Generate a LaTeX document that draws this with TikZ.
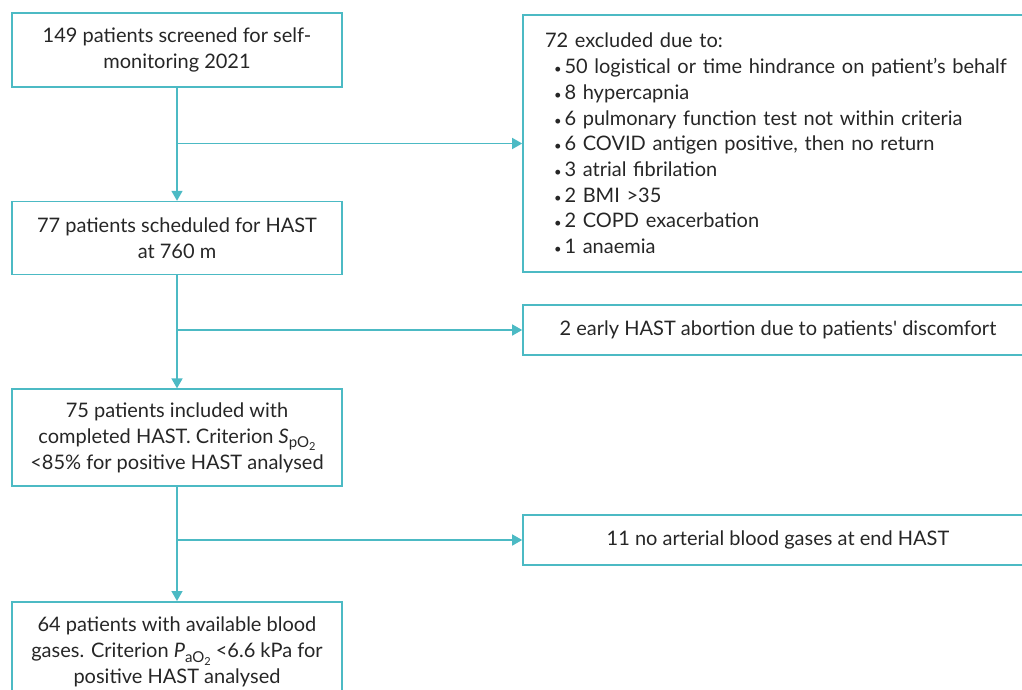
\documentclass[tikz,border=0pt]{standalone}
\usepackage{fontspec}
\setmainfont{Lato}
\usetikzlibrary{arrows.meta,positioning}
\definecolor{flowline}{RGB}{76,186,196}
\definecolor{flowtext}{RGB}{38,38,38}
\newcommand{\bul}{\hspace*{9pt}{\fontsize{13}{13}\selectfont\textbullet}\hspace{3pt}}
\newcommand{\lowsub}[1]{\raisebox{-0.45ex}{\fontsize{15}{15}\selectfont #1}}
\newcommand{\lowersub}[1]{\raisebox{-0.4ex}{\fontsize{11}{11}\selectfont #1}}

\begin{document}
\begin{tikzpicture}[x=1pt,y=-1pt,font=\fontsize{20}{25.7}\selectfont,>={Triangle[length=10pt,width=11pt]},
  box/.style={draw=flowline,line width=1.6pt,text=flowtext,align=center,minimum width=330pt,inner sep=0pt},
  sidebox/.style={box,minimum width=510pt},
  link/.style={draw=flowline,line width=1.5pt,->}]
\useasboundingbox (0,0) rectangle (1022,690);
\node[box,minimum height=74pt] (screen) at (177,50) {149 patients screened for self-\\monitoring 2021};
\node[box,minimum height=73pt,below=113pt of screen] (sched) {77 patients scheduled for HAST\\at 760 m};
\node[box,minimum height=97pt,below=113pt of sched] (incl) {75 patients included with\\completed HAST. Criterion \textit{S}\lowsub{pO\lowersub{2}}\\<85\% for positive HAST analysed};
\node[box,minimum height=100pt,below=114pt of incl] (gas) {64 patients with available blood\\gases. Criterion \textit{P}\lowsub{aO\lowersub{2}} <6.6 kPa for\\positive HAST analysed};
\node[sidebox,minimum height=257pt,align=left,text width=466pt] (excl) at (778,143.5) {72 excluded due to:\\
  \bul \mbox{50 logistical or time hindrance on patient’s behalf}\\
  \bul 8 hypercapnia\\
  \bul 6 pulmonary function test not within criteria\\
  \bul 6 COVID antigen positive, then no return\\
  \bul 3 atrial fibrilation\\
  \bul 2 BMI >35\\
  \bul 2 COPD exacerbation\\
  \bul 1 anaemia};
\node[sidebox,minimum height=50pt] (abort) at (778,330) {2 early HAST abortion due to patients\textquotesingle{} discomfort};
\node[sidebox,minimum height=50pt] (nogas) at (778,540) {11 no arterial blood gases at end HAST};
% main flow
\draw[link] (screen) -- (sched);
\draw[link] (sched) -- (incl);
\draw[link] (incl) -- (gas);
% exclusions
\draw[link] (screen.south |- excl.west) -- (excl);
\draw[link] (sched.south |- abort.west) -- (abort);
\draw[link] (incl.south |- nogas.west) -- (nogas);
\end{tikzpicture}
\end{document}
